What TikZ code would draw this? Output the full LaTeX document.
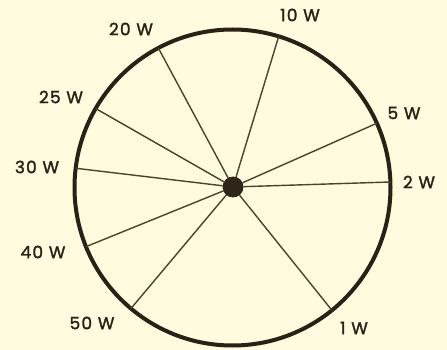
\documentclass[tikz,border=0pt]{standalone}
\usepackage{fontspec}
\setmainfont{Poppins}
\usepackage{tikz}
\usetikzlibrary{positioning}

\definecolor{paper}{RGB}{254,251,222}
\definecolor{ink}{RGB}{40,34,22}
\definecolor{spokeink}{RGB}{78,66,42}

\begin{document}
\begin{tikzpicture}[
    x=1pt, y=-1pt,
    % Define styles for the dial
    rim/.style={circle, draw=ink, line width=4pt, minimum size=316pt, inner sep=0pt, outer sep=0pt},
    hub/.style={circle, draw=ink, fill=ink!85!spokeink, line width=0.8pt, minimum size=20pt, inner sep=0pt},
    spoke/.style={draw=spokeink, line width=1.4pt},
    label/.style={text=ink, font=\fontsize{17}{19}\selectfont\addfontfeatures{LetterSpace=7,FakeBold=1.6}, inner sep=0pt}
]

% --- Frame ---
\fill[paper] (0,0) rectangle (447,350);
\useasboundingbox (0,0) rectangle (447,350);

% --- Nodes ---

% Rim and hub
\node[rim] (rim) at (232.5,187.5) {};
\node[hub] (hub) at (233,187) {};

% Wattage labels
\node[label] (w10) at (300,15) {10 W};
\node[label] (w20) at (131,29) {20 W};
\node[label] (w25) at (61,97) {25 W};
\node[label] (w30) at (37,167) {30 W};
\node[label] (w40) at (43,252) {40 W};
\node[label] (w50) at (92,323) {50 W};
\node[label] (w1) at (354,328) {1 W};
\node[label] (w2) at (419,182) {2 W};
\node[label] (w5) at (404,113) {5 W};

% --- Spokes ---
\draw[spoke] (hub) -- (rim.73.5);
\draw[spoke] (hub) -- (rim.118);
\draw[spoke] (hub) -- (rim.150);
\draw[spoke] (hub) -- (rim.173);
\draw[spoke] (hub) -- (rim.202);
\draw[spoke] (hub) -- (rim.230);
\draw[spoke] (hub) -- (rim.309);
\draw[spoke] (hub) -- (rim.2);
\draw[spoke] (hub) -- (rim.24.5);

\end{tikzpicture}
\end{document}
